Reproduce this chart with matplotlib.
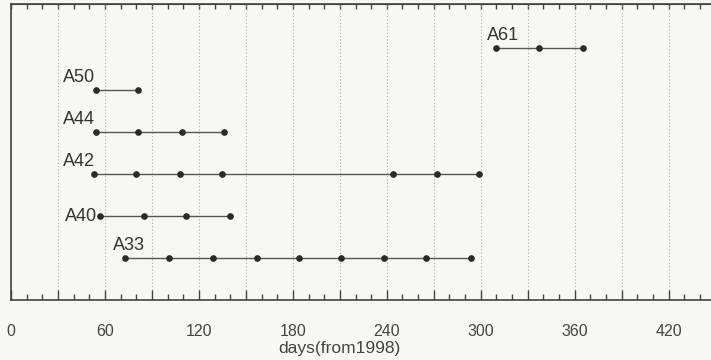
import matplotlib
matplotlib.use("Agg")
import matplotlib.pyplot as plt
from matplotlib.ticker import MultipleLocator, FuncFormatter

# Data (days from 1998)
names = ["A33", "A40", "A42", "A44", "A50", "A61"]
rows = [1, 2, 3, 4, 5, 6]
a33 = [73, 101, 129, 157, 184, 211, 238, 265, 294]
a40 = [57, 85, 112, 140]
a42 = [53, 80, 108, 135, 244, 272, 299]
a44 = [54, 81, 109, 136]
a50 = [54, 81]
a61 = [310, 337, 365]
series = [a33, a40, a42, a44, a50, a61]
# label anchors (x in days, y in row units)
label_x = [65, 55, 33, 33, 33, 304]
label_y = [1.3, 2.0, 3.3, 4.3, 5.3, 6.3]
label_ha = ["left", "right", "left", "left", "left", "left"]

bg = "#f7f7f5"
fig = plt.figure(figsize=(7.11, 3.6), dpi=100, facecolor=bg)
ax = fig.add_axes([11/711, 60/360, 700/711, 296/360], facecolor=bg)

font = "Liberation Sans"
for name, r, xs, lx, ly, ha in zip(names, rows, series, label_x, label_y, label_ha):
    ax.plot(xs, [r]*len(xs), color="#555555", lw=1.0, marker="o",
            markersize=3.8, markerfacecolor="#2a2a2a", markeredgecolor="#2a2a2a", zorder=3)
    ax.text(lx, ly, name, ha=ha, va="center", fontsize=13, family=font, color="#333333")

ax.set_xlim(0, 447)
ax.set_ylim(0, 7.05)
ax.xaxis.set_major_locator(MultipleLocator(30))
ax.xaxis.set_minor_locator(MultipleLocator(10))
ax.xaxis.set_major_formatter(FuncFormatter(lambda v, p: f"{int(v)}" if int(round(v)) % 60 == 0 else ""))
ax.set_yticks([])
ax.grid(axis="x", which="major", linestyle=(0, (1, 2)), color="#aaaaaa", lw=0.8)
ax.tick_params(axis="x", which="major", direction="in", length=7, width=1, color="#444444",
               pad=17, labelsize=11.5, labelcolor="#444444")
ax.tick_params(axis="x", which="minor", direction="in", length=4, width=1, color="#444444")
for lab in ax.get_xticklabels():
    lab.set_family(font)

top = ax.secondary_xaxis("top")
top.xaxis.set_major_locator(MultipleLocator(30))
top.xaxis.set_minor_locator(MultipleLocator(10))
top.tick_params(axis="x", which="both", direction="in", length=3.5, width=1, color="#444444",
                labeltop=False)
top.spines["top"].set_color("#444444")

for s in ["left", "bottom", "top"]:
    ax.spines[s].set_color("#444444")
    ax.spines[s].set_linewidth(1.2)
ax.spines["right"].set_visible(False)

ax.set_xlabel("days(from1998)", fontsize=12.5, family=font, color="#444444")
ax.xaxis.set_label_coords(210/447, -0.14)

fig.savefig("out.png", dpi=100, facecolor=bg)
